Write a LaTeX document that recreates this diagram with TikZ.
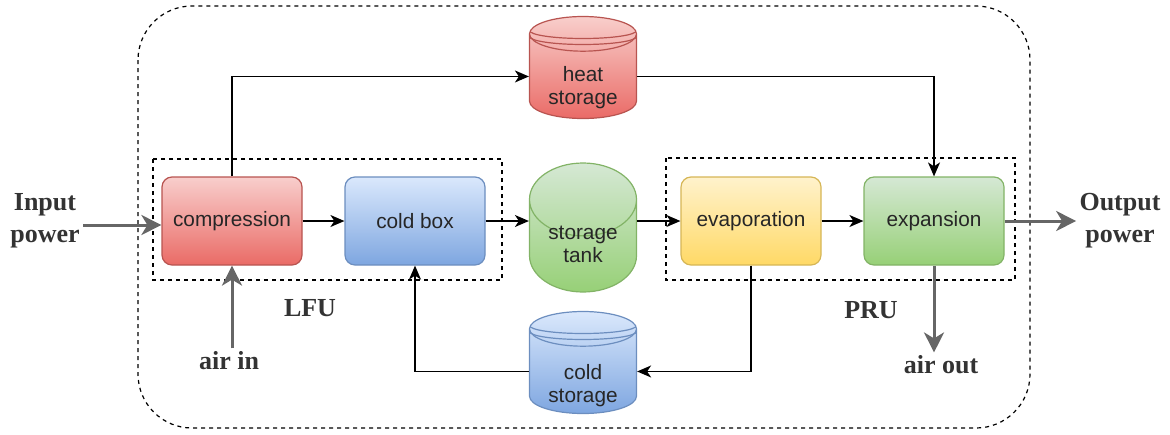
\documentclass[tikz,border=0pt]{standalone}
\usepackage{fontspec}
\setmainfont{Liberation Serif}
\setsansfont{Liberation Sans}
\usetikzlibrary{positioning,shapes.geometric,arrows.meta}

\definecolor{redtop}{HTML}{F8CECC}
\definecolor{redbot}{HTML}{EA6B66}
\definecolor{redline}{HTML}{B85450}
\definecolor{bluetop}{HTML}{DAE8FC}
\definecolor{bluebot}{HTML}{7EA6E0}
\definecolor{blueline}{HTML}{6C8EBF}
\definecolor{greentop}{HTML}{D5E8D4}
\definecolor{greenbot}{HTML}{97D077}
\definecolor{greenline}{HTML}{82B366}
\definecolor{yellowtop}{HTML}{FFF2CC}
\definecolor{yellowbot}{HTML}{FFD966}
\definecolor{yellowline}{HTML}{D6B656}
\definecolor{feedgray}{HTML}{666666}
\definecolor{lbl}{HTML}{333333}

% two-line text of a cylinder, lowered by #1, taking no room
\newcommand{\cyltext}[2]{\raisebox{-#1}[0pt][0pt]{\begin{tabular}{@{}c@{}}#2\end{tabular}}}

\begin{document}
\begin{tikzpicture}[x=0.5pt, y=-0.5pt, node distance=91.5pt,
    box/.style = {draw, rounded corners=5pt, minimum width=70pt, minimum height=44pt, line width=0.6pt,
      font=\sffamily\fontsize{10.4}{11.5}\selectfont, text=black!85},
    tank/.style = {draw, cylinder, shape border rotate=90, minimum width=53.5pt, line width=0.6pt,
      inner sep=0pt, font=\sffamily\fontsize{10.4}{11.5}\selectfont, text=black!85},
    store/.style = {tank, minimum height=51pt, aspect=0.5,
      path picture={\foreach \d in {3pt,6pt}
        \draw[#1, line width=0.6pt] ([yshift=-4pt-\d]path picture bounding box.north west)
          arc[start angle=180, end angle=360, x radius=26.75pt, y radius=4pt];}},
    flow/.style = {-{Stealth[length=7pt, width=6pt, inset=2pt]}, line width=0.75pt},
    feed/.style = {-{Stealth[length=10pt, width=10pt, inset=3pt]}, line width=1.5pt, draw=feedgray},
    lab/.style = {font=\bfseries\fontsize{13}{16}\selectfont, text=lbl, align=center, inner sep=1.5pt},
    unit/.style = {draw, dashed, dash pattern=on 2pt off 2pt, line width=0.6pt}]
    \useasboundingbox (0,0) rectangle (1170,434);

    % frames
    \draw[unit, rounded corners=27pt] (138,6) rectangle (1030,428);
    \draw[unit] (153,159) rectangle (502,280);
    \draw[unit] (666,158) rectangle (1015,280);

    % main row
    \node[box, top color=redtop, bottom color=redbot, draw=redline] (comp) at (232,221) {compression};
    \node[box, top color=bluetop, bottom color=bluebot, draw=blueline] (cold) [right of=comp] {cold box};
    \node[tank, minimum height=64.5pt, aspect=1.05, top color=greentop, bottom color=greenbot, draw=greenline,
      anchor=shape center] (tank) at (583,227.5) {\cyltext{2.8pt}{storage\\tank}};
    \node[box, top color=yellowtop, bottom color=yellowbot, draw=yellowline] (evap) at (751,221) {evaporation};
    \node[box, top color=greentop, bottom color=greenbot, draw=greenline] (exp) [right of=evap] {expansion};

    % storages
    \node[store=redline, top color=redtop, bottom color=redbot, draw=redline,
      anchor=shape center] (heat) at (583,67.5) {\cyltext{8.6pt}{heat\\storage}};
    \node[store=blueline, top color=bluetop, bottom color=bluebot, draw=blueline,
      anchor=shape center] (cstore) at (583,362.5) {\cyltext{10pt}{cold\\storage}};

    % labels
    \node[lab] (inpow) at (45,221) {Input\\power};
    \node[lab] (outpow) at (1120,221) {Output\\power};
    \node[lab] (airin) at (229,361) {air in};
    \node[lab] (airout) at (941,365) {air out};
    \node[lab] (lfu) at (310,308) {LFU};
    \node[lab] (pru) at (871,310) {PRU};

    \draw[flow] (comp.north) |- (heat.west);
    \draw[flow] (heat.east) -| (exp.north);
    \draw[flow] (comp) -- (cold);
    \draw[flow] (cold.east) -- (cold.east -| tank.west);
    \draw[flow] (tank.east |- evap.west) -- (evap.west);
    \draw[flow] (evap) -- (exp);
    \draw[flow] (evap.south) |- (cstore.east);
    \draw[flow] (cstore.west) -| (cold.south);

    \draw[feed] ([yshift=-2pt]inpow.east |- comp.west) -- ([yshift=-2pt]comp.west);
    \draw[feed] (exp.east) -- (exp.east -| outpow.west);
    \draw[feed] (comp.south |- airin.north) -- (comp.south);
    \draw[feed] (exp.south) -- (exp.south |- airout.north);
  \end{tikzpicture}
\end{document}
